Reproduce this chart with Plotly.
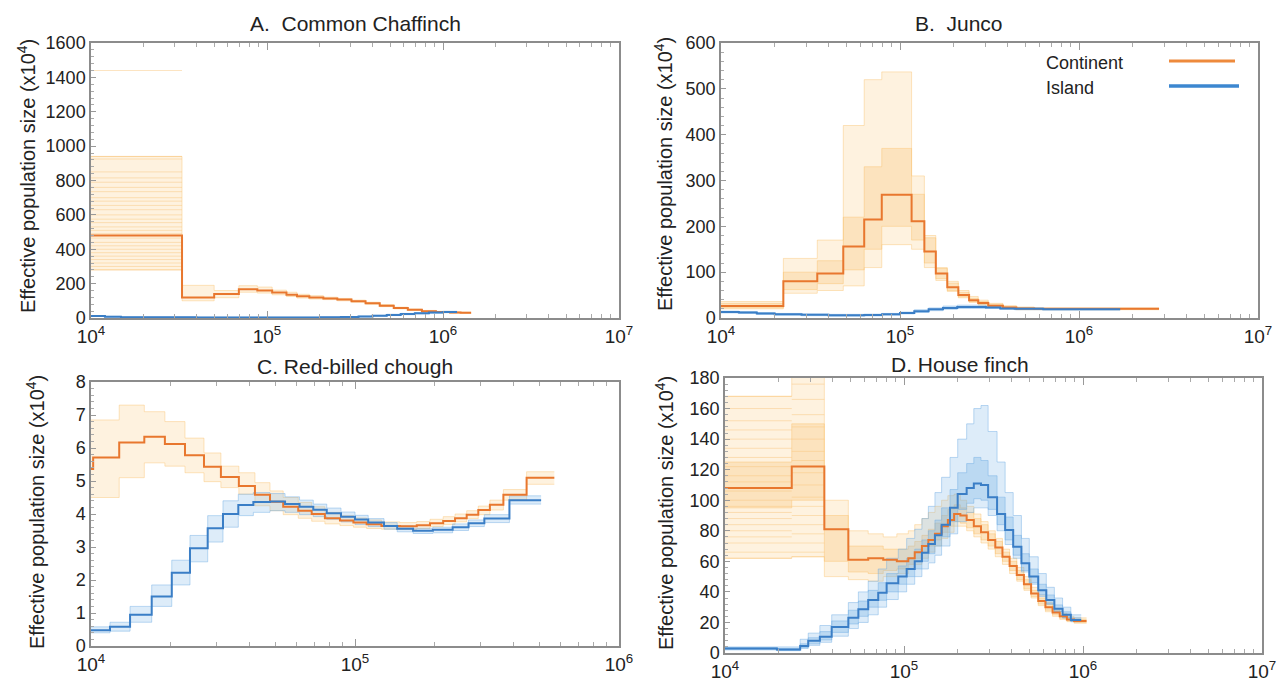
import plotly.graph_objects as go

# PSMC-style step curves: t = start of each time interval (years), ne = Ne (x10^4)
# lo/hi = full spread of the bootstrap replicates, core_lo/core_hi = where most of them sit

# ---- A. Common Chaffinch ----
chaf_cont_t = [10000, 32900, 50100, 69200, 88100, 107000, 129000, 148000, 174000, 209000,
               251000, 302000, 363000, 437000, 525000, 631000, 759000, 912000, 1096000, 1259000]
chaf_cont_ne = [480, 120, 140, 168, 160, 148, 136, 126, 120, 114, 107, 98, 86, 72, 58, 48, 40, 35, 32, 30]
chaf_cont_lo = [280, 100, 118, 150, 145, 135, 125, 116, 110, 107, 100, 92, 80, 66, 53, 44, 36, 31, 28, 26]
chaf_cont_hi = [940, 190, 160, 188, 180, 162, 150, 138, 130, 121, 114, 104, 92, 78, 63, 52, 44, 39, 36, 34]
chaf_cont_end = 1445000
chaf_first_reps = [1440, 940, 925, 850, 815, 790, 760, 735, 700, 680, 655, 630, 600, 575, 555,
                   530, 510, 490, 465, 440, 420, 400, 380, 360, 340, 320, 300, 280]

chaf_isl_t = [10000, 12000, 14800, 20000, 39800, 100000, 200000, 263000, 331000, 398000,
              479000, 575000, 692000, 832000, 1000000]
chaf_isl_ne = [12, 8, 5, 4, 3, 3, 4, 6, 9, 13, 18, 23, 28, 32, 35]
chaf_isl_lo = [10, 6, 3, 2, 1, 1, 2, 4, 6, 10, 14, 19, 24, 28, 31]
chaf_isl_hi = [14, 10, 7, 6, 5, 5, 6, 8, 12, 16, 22, 27, 32, 36, 39]
chaf_isl_end = 1202000

# ---- B. Junco ----
junco_cont_t = [10000, 22300, 34500, 48200, 63100, 79100, 116100, 136800, 158500, 183700,
                211800, 243200, 273500, 311200, 375800, 446700, 562300]
junco_cont_ne = [26, 80, 97, 156, 215, 269, 211, 145, 97, 67, 50, 39, 33, 27, 23, 21, 20]
junco_cont_lo = [20, 54, 60, 70, 110, 160, 150, 110, 82, 58, 44, 34, 28, 23, 20, 18, 18]
junco_cont_hi = [36, 130, 170, 420, 520, 537, 310, 180, 110, 80, 60, 47, 39, 32, 27, 24, 22]
junco_cont_core_lo = [22, 62, 75, 105, 150, 200, 170, 120, 86, 60, 46, 36, 30, 25, 21, 19, 19]
junco_cont_core_hi = [32, 100, 125, 220, 330, 370, 270, 175, 108, 76, 56, 43, 36, 30, 25, 23, 21]
junco_cont_end = 2800000

junco_isl_t = [10000, 12590, 15850, 19950, 28180, 39810, 63100, 79430, 100000, 120200,
               144500, 173800, 208900, 251200, 302000, 363100, 436500, 631000, 1000000]
junco_isl_ne = [13, 12, 10, 8, 7, 6, 6.5, 8, 11, 15, 19, 22, 24, 24, 23, 21, 20, 19, 19]
junco_isl_lo = [11, 10, 8, 6, 5, 4, 4.5, 6, 9, 12, 16, 19, 21, 21, 21, 19, 18, 17.5, 17.5]
junco_isl_hi = [15, 14, 12, 10, 9, 8, 8.5, 10, 13, 18, 22, 26, 28, 28, 26, 23, 22, 20.5, 20.5]
junco_isl_end = 1698000

# ---- C. Red-billed chough ----
chough_cont_t = [10000, 10190, 12790, 15920, 19050, 22700, 26790, 31050, 36310, 41780, 47640,
                 53460, 60950, 68550, 76910, 87700, 98620, 110700, 125900, 147900, 171400,
                 192300, 215800, 239300, 264900, 293100, 324300, 364800, 446700]
chough_cont_ne = [5.36, 5.71, 6.17, 6.34, 6.12, 5.78, 5.43, 5.12, 4.85, 4.58, 4.37,
                  4.22, 4.10, 4.00, 3.87, 3.80, 3.74, 3.69, 3.64, 3.63, 3.66,
                  3.72, 3.79, 3.87, 3.98, 4.12, 4.28, 4.58, 5.10]
chough_cont_lo = [4.5, 4.5, 5.1, 5.55, 5.45, 5.25, 4.98, 4.8, 4.6, 4.25, 4.1,
                  3.98, 3.87, 3.78, 3.7, 3.65, 3.6, 3.56, 3.54, 3.53, 3.56,
                  3.62, 3.68, 3.76, 3.86, 3.98, 4.12, 4.42, 4.9]
chough_cont_hi = [6.85, 6.85, 7.3, 7.1, 6.8, 6.3, 5.85, 5.45, 5.25, 4.95, 4.7,
                  4.5, 4.35, 4.22, 4.05, 3.95, 3.88, 3.82, 3.76, 3.74, 3.77,
                  3.84, 3.92, 4.0, 4.1, 4.24, 4.42, 4.74, 5.28]
chough_cont_end = 568900

chough_isl_t = [10000, 11800, 14060, 16980, 20230, 23710, 27670, 31620, 36140, 41210, 47640,
                54330, 61660, 69500, 78160, 88510, 100000, 112200, 128800, 144500, 166000,
                197200, 234400, 269200, 309000, 384600]
chough_isl_ne = [0.48, 0.58, 0.95, 1.50, 2.22, 2.96, 3.57, 4.00, 4.27, 4.36, 4.38,
                 4.30, 4.22, 4.13, 4.02, 3.92, 3.83, 3.74, 3.64, 3.55, 3.49,
                 3.52, 3.60, 3.72, 3.86, 4.42]
chough_isl_lo = [0.40, 0.45, 0.72, 1.2, 1.85, 2.55, 3.15, 3.6, 3.95, 4.05, 4.1,
                 4.05, 3.98, 3.92, 3.84, 3.76, 3.68, 3.62, 3.54, 3.46, 3.41,
                 3.43, 3.5, 3.62, 3.74, 4.3]
chough_isl_hi = [0.58, 0.72, 1.2, 1.85, 2.6, 3.35, 3.95, 4.4, 4.6, 4.65, 4.62,
                 4.52, 4.42, 4.3, 4.18, 4.06, 3.96, 3.86, 3.74, 3.64, 3.57,
                 3.6, 3.7, 3.82, 3.98, 4.55]
chough_isl_end = 507000

# ---- D. House finch ----
hf_cont_t = [10000, 23600, 35890, 48870, 63100, 76560, 91200, 105700, 114800, 125900, 136800,
             148900, 162200, 175800, 190500, 206500, 223900, 245500, 269200, 295100, 323600,
             354800, 389000, 426600, 467700, 512900, 562300, 616600, 676100, 741300, 812800, 891300]
hf_cont_ne = [108, 122, 81, 61, 62, 61, 60, 62, 66, 70, 74, 78, 83, 87, 91, 90, 87, 83, 79, 74,
              69, 63, 57, 51, 45, 39, 34, 30, 26.5, 24, 22, 21]
hf_cont_lo = [62, 63, 50, 48, 47, 50, 52, 55, 58, 62, 66, 70, 75, 79, 83, 83, 80, 76, 72, 68,
              63, 58, 52, 47, 41, 36, 31, 27, 24, 22, 20.5, 19.5]
hf_cont_hi = [168, 250, 100, 80, 78, 76, 78, 80, 84, 88, 92, 96, 100, 103, 104, 100, 96, 91, 86, 80,
              75, 68, 62, 56, 50, 43, 38, 33, 29, 26, 24, 23]
hf_cont_core_lo = [95, 100, 60, 53, 52, 54, 55, 58, 62, 66, 70, 74, 79, 83, 86, 85, 82, 78, 74, 70,
                   65, 60, 54, 48, 42, 37, 32, 28, 25, 22.8, 21, 20]
hf_cont_core_hi = [125, 150, 90, 70, 70, 68, 68, 70, 73, 77, 81, 85, 90, 94, 97, 95, 92, 88, 84, 78,
                   73, 66, 60, 54, 48, 41, 36, 32, 28, 25, 23, 22]
hf_cont_end = 1047000
hf_first_reps = [168, 160, 152, 146, 140, 134, 128, 122, 116, 112, 106, 100, 96, 92, 88, 84, 80, 76, 72, 66, 62]
hf_second_reps = [200, 176, 166, 156, 148, 140, 132, 126, 118, 110, 102, 96, 90, 84, 78, 72, 66, 63]

hf_isl_t = [10000, 19500, 26300, 29170, 33880, 39450, 48870, 55590, 63100, 71780, 79980, 92900,
            103500, 114800, 125900, 136800, 148900, 162200, 180700, 199500, 223900, 245500, 269200,
            295100, 331100, 367300, 407400, 452900, 501200, 562300, 623700, 691800, 769100, 855100]
hf_isl_ne = [3, 2.3, 4.6, 8, 10.7, 17, 23, 28.6, 34.7, 39.5, 45.6, 50, 55, 60, 65.6, 71.3, 77, 84,
             95, 104, 108, 111, 110, 102, 91, 80.5, 69.6, 58.7, 50, 41, 34.7, 29, 25, 21.6]
hf_isl_lo = [2, 1.5, 3, 5, 7, 11, 16, 20, 25, 30, 35, 40, 45, 50, 55, 59, 64, 70,
             78, 86, 92, 95, 95, 90, 80, 71, 62, 53, 45, 37, 32, 27, 23, 20.5]
hf_isl_hi = [4, 4, 9, 13, 18, 25, 33, 40, 47, 55, 62, 68, 75, 81, 88, 96, 105, 115,
             128, 140, 150, 160, 162, 145, 125, 105, 90, 75, 63, 52, 43, 36, 30, 25]
hf_isl_core_lo = [2.5, 1.8, 3.5, 6, 8.5, 13.5, 19, 24, 30, 34.5, 40, 45, 50, 55, 60, 65, 70, 76,
                  86, 94, 98, 101, 100, 94, 84, 74, 64, 54, 46, 38, 32, 27, 23, 20.8]
hf_isl_core_hi = [3.5, 3, 6, 10, 14, 21, 28, 34, 41, 46, 52, 57, 62, 68, 74, 80, 87, 95,
                  107, 118, 124, 128, 126, 116, 102, 89, 77, 65, 55, 45, 38, 31.5, 27, 23]
hf_isl_end = 977200

panel_titles = ["A.  Common Chaffinch", "B.  Junco", "C. Red-billed chough", "D. House finch"]
legend_labels = ["Continent", "Island"]

ORANGE = "#E8772E"
BLUE = "#3A7EC6"
OR_BAND = "rgba(250,196,110,0.22)"
OR_CORE = "rgba(247,185,90,0.25)"
OR_EDGE = "rgba(249,190,100,0.4)"
BL_BAND = "rgba(120,180,232,0.25)"
BL_CORE = "rgba(100,168,228,0.28)"
BL_EDGE = "rgba(110,172,228,0.45)"
FONT = "Liberation Sans, Arial, sans-serif"

W, H = 1278, 682


def px(x):
    return x / W


def py(y):
    return 1 - y / H


fig = go.Figure()


def add_band(t, lo, hi, end, ax, band_col, edge_col):
    xs = list(t) + [end]
    xa, ya = "x" + ax, "y" + ax
    fig.add_trace(go.Scatter(x=xs, y=list(lo) + [lo[-1]], mode="lines", line=dict(shape="hv", width=1, color=edge_col),
                             xaxis=xa, yaxis=ya, showlegend=False, hoverinfo="skip"))
    fig.add_trace(go.Scatter(x=xs, y=list(hi) + [hi[-1]], mode="lines", line=dict(shape="hv", width=1, color=edge_col),
                             fill="tonexty", fillcolor=band_col,
                             xaxis=xa, yaxis=ya, showlegend=False, hoverinfo="skip"))


def add_main(t, ne, end, ax, col):
    fig.add_trace(go.Scatter(x=list(t) + [end], y=list(ne) + [ne[-1]], mode="lines",
                             line=dict(shape="hv", width=2, color=col),
                             xaxis="x" + ax, yaxis="y" + ax, showlegend=False))


def add_reps(levels, t0, t1, ax):
    xs, ys = [], []
    for v in levels:
        xs += [t0, t1, None]
        ys += [v, v, None]
    fig.add_trace(go.Scatter(x=xs, y=ys, mode="lines", line=dict(width=1, color="rgba(249,196,120,0.45)"),
                             xaxis="x" + ax, yaxis="y" + ax, showlegend=False, hoverinfo="skip"))


# A
add_band(chaf_cont_t, chaf_cont_lo, chaf_cont_hi, chaf_cont_end, "", OR_BAND, OR_EDGE)
add_reps(chaf_first_reps, chaf_cont_t[0], chaf_cont_t[1], "")
add_band(chaf_isl_t, chaf_isl_lo, chaf_isl_hi, chaf_isl_end, "", BL_BAND, BL_EDGE)
add_main(chaf_cont_t, chaf_cont_ne, chaf_cont_end, "", ORANGE)
add_main(chaf_isl_t, chaf_isl_ne, chaf_isl_end, "", BLUE)
# B
add_band(junco_cont_t, junco_cont_lo, junco_cont_hi, junco_cont_end, "2", OR_BAND, OR_EDGE)
add_band(junco_cont_t, junco_cont_core_lo, junco_cont_core_hi, junco_cont_end, "2", OR_CORE, OR_EDGE)
add_band(junco_isl_t, junco_isl_lo, junco_isl_hi, junco_isl_end, "2", BL_BAND, BL_EDGE)
add_main(junco_cont_t, junco_cont_ne, junco_cont_end, "2", ORANGE)
add_main(junco_isl_t, junco_isl_ne, junco_isl_end, "2", BLUE)
# C
add_band(chough_cont_t, chough_cont_lo, chough_cont_hi, chough_cont_end, "3", OR_BAND, OR_EDGE)
add_band(chough_isl_t, chough_isl_lo, chough_isl_hi, chough_isl_end, "3", BL_BAND, BL_EDGE)
add_main(chough_cont_t, chough_cont_ne, chough_cont_end, "3", ORANGE)
add_main(chough_isl_t, chough_isl_ne, chough_isl_end, "3", BLUE)
# D
add_band(hf_cont_t, hf_cont_lo, hf_cont_hi, hf_cont_end, "4", OR_BAND, OR_EDGE)
add_band(hf_cont_t, hf_cont_core_lo, hf_cont_core_hi, hf_cont_end, "4", OR_CORE, OR_EDGE)
add_reps(hf_first_reps, hf_cont_t[0], hf_cont_t[1], "4")
add_reps(hf_second_reps, hf_cont_t[1], hf_cont_t[2], "4")
add_band(hf_isl_t, hf_isl_lo, hf_isl_hi, hf_isl_end, "4", BL_BAND, BL_EDGE)
add_band(hf_isl_t, hf_isl_core_lo, hf_isl_core_hi, hf_isl_end, "4", BL_CORE, BL_EDGE)
add_main(hf_cont_t, hf_cont_ne, hf_cont_end, "4", ORANGE)
add_main(hf_isl_t, hf_isl_ne, hf_isl_end, "4", BLUE)


def xaxis(dom, top_exp, anchor):
    vals = [10 ** e for e in range(4, top_exp + 1)]
    minor_vals = [m * 10 ** e for e in range(4, top_exp) for m in range(2, 10)]
    return dict(type="log", domain=dom, anchor=anchor, range=[4, top_exp], automargin=False,
                tickvals=vals, ticktext=["10<sup>%d</sup>" % e for e in range(4, top_exp + 1)],
                ticks="inside", ticklen=7, tickwidth=1, tickcolor="#999",
                minor=dict(tickvals=minor_vals, ticks="inside", ticklen=4, tickcolor="#aaa"),
                showline=True, linecolor="#8c8c8c", linewidth=1.5, mirror="allticks",
                showgrid=False, zeroline=False, tickfont=dict(size=19, color="#222", family=FONT))


def yaxis(dom, top, dt, anchor):
    return dict(domain=dom, anchor=anchor, range=[0, top], dtick=dt, tick0=0, automargin=False,
                ticks="inside", ticklen=5, tickwidth=1, tickcolor="#999",
                minor=dict(dtick=dt / 5, ticks="inside", ticklen=3, tickcolor="#aaa"),
                showline=True, linecolor="#8c8c8c", linewidth=1.5, mirror=True,
                showgrid=False, zeroline=False, tickfont=dict(size=18, color="#222", family=FONT))


top_row = [py(318), py(43)]
fig.update_layout(
    width=W, height=H, margin=dict(l=0, r=0, t=0, b=0, autoexpand=False),
    paper_bgcolor="white", plot_bgcolor="white", showlegend=False,
    font=dict(family=FONT, color="#222"),
    xaxis=xaxis([px(91), px(619)], 7, "y"),
    yaxis=yaxis(top_row, 1600, 200, "x"),
    xaxis2=xaxis([px(721), px(1258)], 7, "y2"),
    yaxis2=yaxis(top_row, 600, 100, "x2"),
    xaxis3=xaxis([px(91), px(619)], 6, "y3"),
    yaxis3=yaxis([py(646), py(382)], 8, 1, "x3"),
    xaxis4=xaxis([px(725), px(1262)], 7, "y4"),
    yaxis4=yaxis([py(653), py(378)], 180, 20, "x4"),
)

ann = []
for (cx, cy), txt in zip([(355, 24), (959, 24), (355, 366), (960, 364)], panel_titles):
    ann.append(dict(x=px(cx), y=py(cy), xref="paper", yref="paper", text=txt, showarrow=False,
                    xanchor="center", yanchor="middle", font=dict(size=21, color="#222", family=FONT)))
for cx, cy in [(26, 176), (663, 174), (35, 512), (664, 513)]:
    ann.append(dict(x=px(cx), y=py(cy), xref="paper", yref="paper", textangle=-90,
                    text="Effective population size (x10<sup>4</sup>)", showarrow=False,
                    xanchor="center", yanchor="middle", font=dict(size=20, color="#222", family=FONT)))
# legend in panel B
for lab, ly in zip(legend_labels, [63, 88]):
    ann.append(dict(x=px(1044), y=py(ly), xref="paper", yref="paper", text=lab, showarrow=False,
                    xanchor="left", yanchor="middle", font=dict(size=18, color="#222", family=FONT)))
fig.update_layout(annotations=ann)
fig.add_shape(type="line", xref="paper", yref="paper", x0=px(1169), x1=px(1235), y0=py(61), y1=py(61),
              line=dict(color="#EE8A3C", width=3))
fig.add_shape(type="line", xref="paper", yref="paper", x0=px(1169), x1=px(1239), y0=py(86), y1=py(86),
              line=dict(color="#3C87D0", width=3.5))

# page has a default 8px body margin; drop it so the figure sits at the window origin
fig.write_html("out.html", config={"displayModeBar": False},
               post_script="document.body.style.margin='0px';")
